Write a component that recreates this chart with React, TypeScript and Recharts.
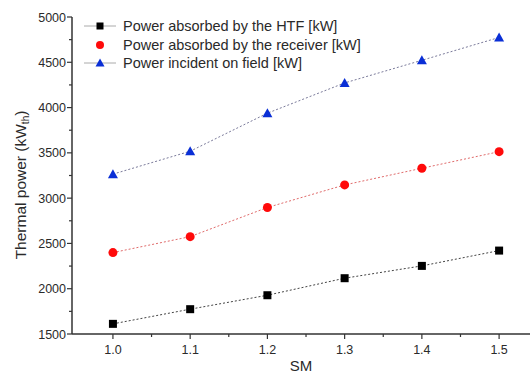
import React from 'react';
import { LineChart, Line, XAxis, YAxis, Legend } from 'recharts';

const smValues = [1.0, 1.1, 1.2, 1.3, 1.4, 1.5];
const htfPower = [1612, 1774, 1928, 2116, 2252, 2421];
const receiverPower = [2399, 2575, 2897, 3146, 3330, 3513];
const incidentPower = [3265, 3518, 3938, 4272, 4522, 4774];

const xTicks = [1.0, 1.05, 1.1, 1.15, 1.2, 1.25, 1.3, 1.35, 1.4, 1.45, 1.5];
const yTicks = [1500, 1750, 2000, 2250, 2500, 2750, 3000, 3250, 3500, 3750, 4000, 4250, 4500, 4750, 5000];

const seriesNames = [
  'Power absorbed by the HTF [kW]',
  'Power absorbed by the receiver [kW]',
  'Power incident on field [kW]',
];

const data = smValues.map((sm, i) => ({
  sm,
  htf: htfPower[i],
  receiver: receiverPower[i],
  incident: incidentPower[i],
}));

const FONT = '"Liberation Sans", Arial, sans-serif';
const TEXT = '#2a2a2a';
const AXIS = '#333';
const TS = 5;
const TM = 2;

const BLACK = '#000000';
const RED = '#ff0a0a';
const BLUE = '#0a2fd6';

const Square = (p: any) => (
  <rect key={`sq-${p.index}`} x={p.cx - 4} y={p.cy - 4} width={8} height={8} fill={BLACK} />
);
const Circle = (p: any) => (
  <circle key={`ci-${p.index}`} cx={p.cx} cy={p.cy} r={4.5} fill={RED} />
);
const Triangle = (p: any) => (
  <polygon
    key={`tr-${p.index}`}
    points={`${p.cx},${p.cy - 5} ${p.cx + 5},${p.cy + 4} ${p.cx - 5},${p.cy + 4}`}
    fill={BLUE}
  />
);

const YTick = (props: any) => {
  const { x, y, payload } = props;
  const axisX = x + TS + TM;
  const v = payload.value;
  const major = v % 500 === 0;
  return (
    <g>
      <line x1={axisX} x2={axisX - (major ? 5 : 3)} y1={y} y2={y} stroke={AXIS} strokeWidth={1.2} />
      {major && (
        <text x={axisX - 6} y={y} dy={4.5} textAnchor="end" fontSize={12.5} fontFamily={FONT} fill={TEXT}>
          {v}
        </text>
      )}
    </g>
  );
};

const XTick = (props: any) => {
  const { x, y, payload } = props;
  const axisY = y - TS - TM;
  const v = payload.value;
  const major = Math.abs(v * 10 - Math.round(v * 10)) < 1e-6;
  return (
    <g>
      <line x1={x} x2={x} y1={axisY} y2={axisY + (major ? 5 : 3)} stroke={AXIS} strokeWidth={1.2} />
      {major && (
        <text x={x} y={axisY + 20} textAnchor="middle" fontSize={12.5} fontFamily={FONT} fill={TEXT}>
          {v.toFixed(1)}
        </text>
      )}
    </g>
  );
};

const YLabel = () => (
  <text
    transform="rotate(-90)"
    x={-185}
    y={26}
    textAnchor="middle"
    fontSize={15.5}
    fontFamily={FONT}
    fill={TEXT}
  >
    Thermal power (kW
    <tspan fontSize={10} dy={3}>th</tspan>
    <tspan dy={-3}>)</tspan>
  </text>
);

const XLabel = () => (
  <text x={301} y={371} textAnchor="middle" fontSize={15} fontFamily={FONT} fill={TEXT}>
    SM
  </text>
);

const legendSymbols = [
  (cx: number, cy: number) => <rect x={cx - 3.5} y={cy - 3.5} width={7} height={7} fill={BLACK} />,
  (cx: number, cy: number) => <circle cx={cx} cy={cy} r={4} fill={RED} />,
  (cx: number, cy: number) => (
    <polygon points={`${cx},${cy - 4.5} ${cx + 4.5},${cy + 3.5} ${cx - 4.5},${cy + 3.5}`} fill={BLUE} />
  ),
];

const LegendContent = () => (
  <div style={{ fontFamily: FONT, fontSize: 14.5, color: TEXT }}>
    {seriesNames.map((name, i) => (
      <div key={name} style={{ display: 'flex', alignItems: 'center', height: 18.5 }}>
        <svg width={40} height={18} style={{ display: 'block' }}>
          {i !== 1 && <line x1={4} x2={36} y1={9} y2={9} stroke="#aaa" strokeWidth={1} />}
          {legendSymbols[i](20, 9)}
        </svg>
        <span style={{ marginLeft: 3, whiteSpace: 'nowrap' }}>{name}</span>
      </div>
    ))}
  </div>
);

export default function App() {
  return (
    <div style={{ position: 'absolute', left: 0, top: 0, width: 530, height: 373, background: '#fff' }}>
      <LineChart
        width={530}
        height={373}
        data={data}
        margin={{ top: 17, right: 0, left: 12, bottom: 0 }}
      >
        <XAxis
          type="number"
          dataKey="sm"
          domain={[0.947, 1.54]}
          allowDataOverflow
          ticks={xTicks}
          interval={0}
          tickSize={TS}
          tickMargin={TM}
          tickLine={false}
          tick={<XTick />}
          axisLine={{ stroke: AXIS, strokeWidth: 1.5 }}
          height={39}
          label={<XLabel />}
        />
        <YAxis
          type="number"
          domain={[1500, 5000]}
          allowDataOverflow
          ticks={yTicks}
          interval={0}
          tickSize={TS}
          tickMargin={TM}
          tickLine={false}
          tick={<YTick />}
          axisLine={{ stroke: AXIS, strokeWidth: 1.5 }}
          width={60}
          label={<YLabel />}
        />
        <Legend
          layout="horizontal"
          verticalAlign="middle"
          align="center"
          content={<LegendContent />}
          wrapperStyle={{ position: 'absolute', left: 80, top: 17, width: 'auto' }}
        />
        <Line
          type="linear"
          dataKey="htf"
          name={seriesNames[0]}
          stroke="#444"
          strokeWidth={1}
          strokeDasharray="2 2"
          dot={Square}
          isAnimationActive={false}
        />
        <Line
          type="linear"
          dataKey="receiver"
          name={seriesNames[1]}
          stroke="#e06a6a"
          strokeWidth={1}
          strokeDasharray="2 2"
          dot={Circle}
          isAnimationActive={false}
        />
        <Line
          type="linear"
          dataKey="incident"
          name={seriesNames[2]}
          stroke="#7a7a9a"
          strokeWidth={1}
          strokeDasharray="2 2"
          dot={Triangle}
          isAnimationActive={false}
        />
      </LineChart>
    </div>
  );
}
